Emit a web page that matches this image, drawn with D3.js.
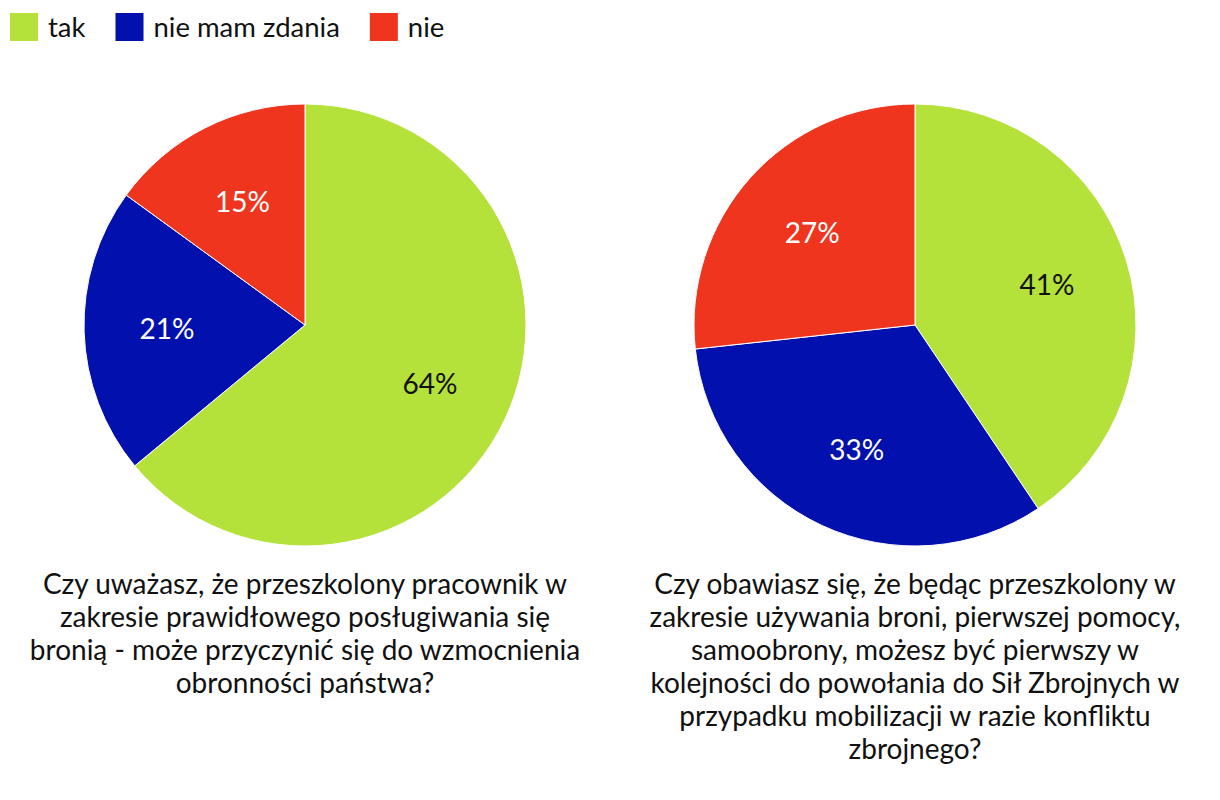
<!DOCTYPE html>
<html>
<head>
<meta charset="utf-8">
<script src="https://cdn.jsdelivr.net/npm/d3@7"></script>
<style>
  html, body { margin: 0; padding: 0; background: #fff; }
  svg { display: block; font-family: Lato, "Open Sans", sans-serif; }
</style>
</head>
<body>
<svg id="chart" width="1220" height="800"></svg>
<script>
const categories = ["tak", "nie mam zdania", "nie"];
const colors = ["#b4e13a", "#0211ad", "#f0351f"];
const labelColors = ["#111111", "#ffffff", "#ffffff"];
const valuesLeft = [64, 21, 15];
const valuesRight = [41, 33, 27];
const titleLeft = [
  "Czy uważasz, że przeszkolony pracownik w",
  "zakresie prawidłowego posługiwania się",
  "bronią - może przyczynić się do wzmocnienia",
  "obronności państwa?"
];
const titleRight = [
  "Czy obawiasz się, że będąc przeszkolony w",
  "zakresie używania broni, pierwszej pomocy,",
  "samoobrony, możesz być pierwszy w",
  "kolejności do powołania do Sił Zbrojnych w",
  "przypadku mobilizacji w razie konfliktu",
  "zbrojnego?"
];

const svg = d3.select("#chart");
const R = 221;
const color = d3.scaleOrdinal().domain(categories).range(colors);
const lblColor = d3.scaleOrdinal().domain(categories).range(labelColors);

const pie = d3.pie().sort(null).value(d => d.v);
const arc = d3.arc().innerRadius(0).outerRadius(R);
const labelArc = d3.arc().innerRadius(138).outerRadius(138);

function drawPie(cx, cy, values, title) {
  const g = svg.append("g").attr("transform", `translate(${cx},${cy})`);
  const data = pie(categories.map((c, i) => ({ c, v: values[i] })));
  g.selectAll("path").data(data).enter().append("path")
    .attr("d", arc)
    .attr("fill", d => color(d.data.c))
    .attr("stroke", "#ffffff")
    .attr("stroke-width", 1);
  g.selectAll("text.lbl").data(data).enter().append("text")
    .attr("class", "lbl")
    .attr("transform", d => `translate(${labelArc.centroid(d)})`)
    .attr("text-anchor", "middle")
    .attr("dy", "0.35em")
    .attr("font-size", 28)
    .attr("fill", d => lblColor(d.data.c))
    .text(d => d.data.v + "%");
  const t = svg.append("text")
    .attr("text-anchor", "middle")
    .attr("font-size", 28)
    .attr("fill", "#111111");
  title.forEach((line, i) => {
    t.append("tspan").attr("x", cx).attr("y", 594 + i * 33).text(line);
  });
}

drawPie(305, 325, valuesLeft, titleLeft);
drawPie(915, 325, valuesRight, titleRight);

// legend
let x = 10;
categories.forEach((c, i) => {
  svg.append("rect").attr("x", x).attr("y", 13).attr("width", 28).attr("height", 28)
    .attr("fill", color(c));
  const t = svg.append("text").attr("x", x + 38).attr("y", 37)
    .attr("font-size", 27.5).attr("fill", "#111111").text(c);
  x = x + 38 + t.node().getComputedTextLength() + 30;
});
</script>
</body>
</html>
